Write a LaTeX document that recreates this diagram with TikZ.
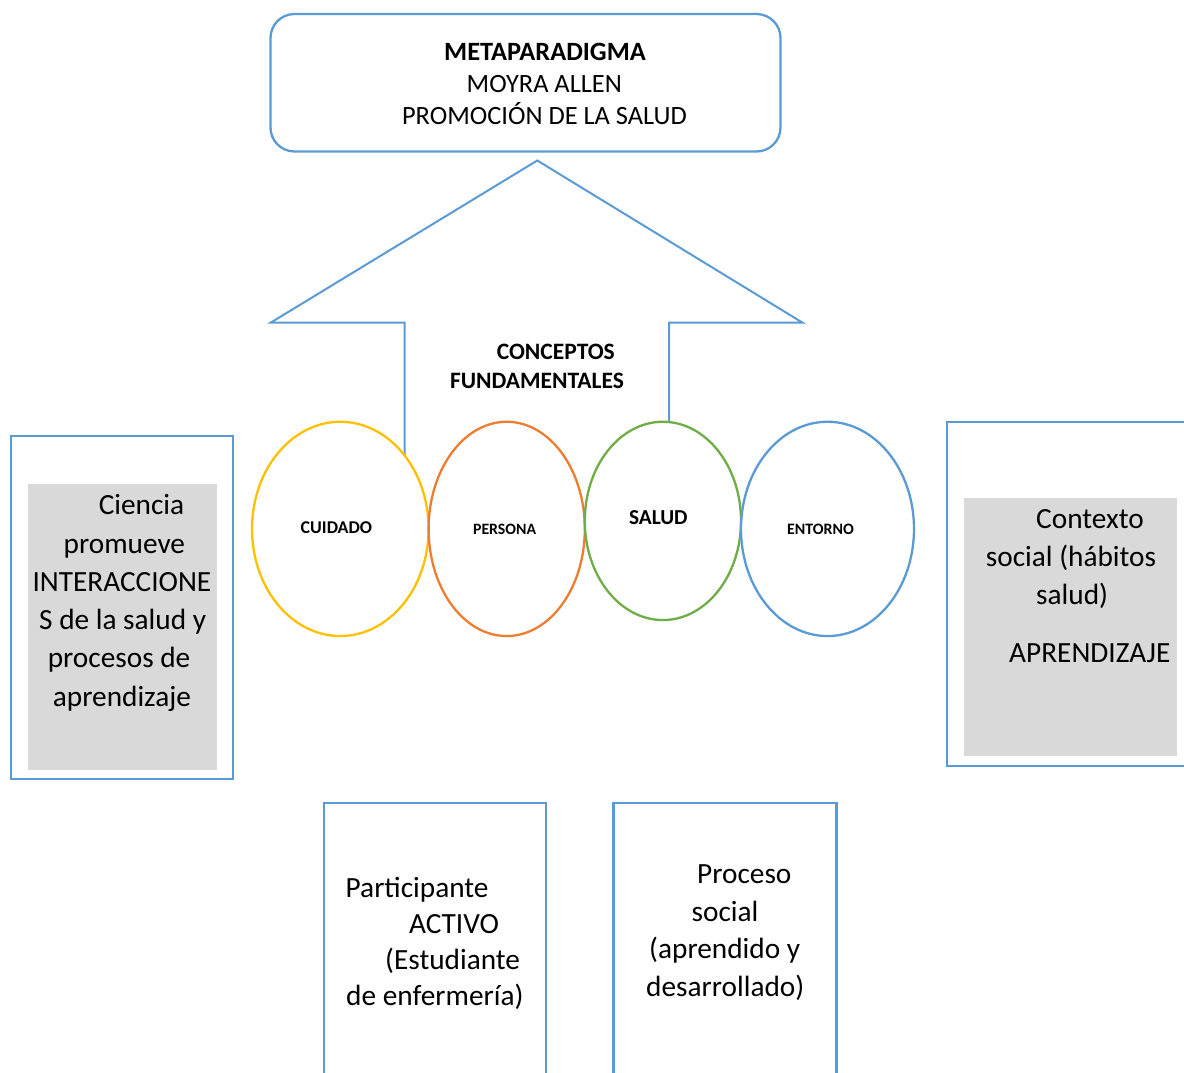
\documentclass[tikz,border=0pt]{standalone}
\usepackage{fontspec}
\setmainfont{Carlito}
\usetikzlibrary{shapes.geometric}
\definecolor{wblue}{HTML}{5B9BD5}
\definecolor{wyellow}{HTML}{FFC000}
\definecolor{worange}{HTML}{ED7D31}
\definecolor{wgreen}{HTML}{70AD47}
\definecolor{wgray}{HTML}{D9D9D9}
\begin{document}
\begin{tikzpicture}[x=1pt,y=-1pt,
  frame/.style={draw=wblue,line width=2.3pt},
  shade/.style={fill=wgray,draw=none},
  oval/.style={ellipse,fill=white,line width=2.3pt,inner sep=0pt},
  bigtxt/.style={anchor=base west,inner sep=0pt,font=\fontsize{29.3}{35}\selectfont},
  toptxt/.style={anchor=base,inner sep=0pt,font=\fontsize{26.4}{32}\selectfont},
  conctxt/.style={anchor=base,inner sep=0pt,font=\fontsize{23.5}{29}\selectfont\bfseries},
  ovtxt/.style={anchor=base,inner sep=0pt,font=\bfseries}]
\useasboundingbox (0,0) rectangle (1184,1072);
\clip (0,0) rectangle (1184,1072);

% top rounded box
\draw[frame,rounded corners=24pt] (270.5,14) rectangle (780.5,151.5);
\node[toptxt,font=\fontsize{26.4}{32}\selectfont\bfseries] (t1) at (545,60) {METAPARADIGMA};
\node[toptxt] (t2) at (544.3,92.7) {MOYRA ALLEN};
\node[toptxt] (t3) at (544.5,124) {PROMOCIÓN DE LA SALUD};

% big arrow
\coordinate (apex) at (537.3,160.5);
\draw[draw=wblue,line width=2pt,line join=miter]
  (404.6,470) -- (404.6,322.7) -- (270.6,322.7) -- (apex)
  -- (802.6,322.7) -- (669.2,322.7) -- (669.2,450);
\node[conctxt] (c1) at (555.8,359) {CONCEPTOS};
\node[conctxt] (c2) at (537,388) {FUNDAMENTALES};

% ovals
\node[oval,draw=wyellow,minimum width=176.6pt,minimum height=214.3pt] (cuidado) at (340.3,528.9) {};
\node[oval,draw=worange,minimum width=156.2pt,minimum height=214.3pt] (persona) at (506.7,528.9) {};
\node[oval,draw=wgreen,minimum width=156.2pt,minimum height=198.3pt] (salud) at (662.9,520.9) {};
\node[oval,draw=wblue,minimum width=173pt,minimum height=214.3pt] (entorno) at (827.5,528.9) {};
\node[ovtxt,font=\fontsize{18}{22}\selectfont\bfseries] (l1) at (336.4,533) {CUIDADO};
\node[ovtxt,font=\fontsize{15.8}{19}\selectfont\bfseries] (l2) at (504.6,534) {PERSONA};
\node[ovtxt,font=\fontsize{21.3}{26}\selectfont\bfseries] (l3) at (658.3,524) {SALUD};
\node[ovtxt,font=\fontsize{15.9}{19}\selectfont\bfseries] (l4) at (820.5,534) {ENTORNO};

% left box
\draw[frame] (11,436) rectangle (233.3,779.3);
\fill[shade] (28,484) rectangle (217,769.7);
\node[bigtxt] (a1) at (98.6,514) {Ciencia};
\node[bigtxt] (a2) at (63.5,553) {promueve};
\node[bigtxt] (a3) at (32.3,591) {INTERACCIONE};
\node[bigtxt] (a4) at (39,629) {S de la salud y};
\node[bigtxt] (a5) at (47.6,667) {procesos de};
\node[bigtxt] (a6) at (52.7,706) {aprendizaje};

% right box
\draw[frame] (947.3,422.3) rectangle (1200,766);
\fill[shade] (964,498.3) rectangle (1177,755.7);
\node[bigtxt] (b1) at (1036,528) {Contexto};
\node[bigtxt] (b2) at (985.7,566) {social (hábitos};
\node[bigtxt] (b3) at (1036,604) {salud)};
\node[bigtxt] (b4) at (1009,662) {APRENDIZAJE};

% bottom boxes
\draw[frame] (324,803.3) rectangle (545.7,1090);
\node[bigtxt] (p1) at (345.5,897) {Participante};
\node[bigtxt] (p2) at (409,933) {ACTIVO};
\node[bigtxt] (p3) at (385,969) {(Estudiante};
\node[bigtxt] (p4) at (346,1005) {de enfermería)};

\draw[frame] (613.6,803.3) rectangle (836.4,1090);
\node[bigtxt] (q1) at (697,883) {Proceso};
\node[bigtxt] (q2) at (691.5,921) {social};
\node[bigtxt] (q3) at (649,958) {(aprendido y};
\node[bigtxt] (q4) at (646,996) {desarrollado)};
\end{tikzpicture}
\end{document}
